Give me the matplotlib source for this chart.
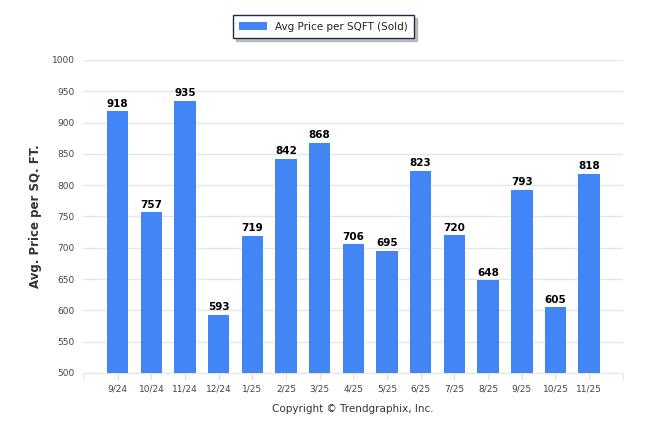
import matplotlib
matplotlib.use("Agg")
import matplotlib.pyplot as plt
from matplotlib.patches import Patch

months = ["9/24", "10/24", "11/24", "12/24", "1/25", "2/25", "3/25", "4/25",
          "5/25", "6/25", "7/25", "8/25", "9/25", "10/25", "11/25"]
values = [918, 757, 935, 593, 719, 842, 868, 706, 695, 823, 720, 648, 793, 605, 818]
yticks = [500, 550, 600, 650, 700, 750, 800, 850, 900, 950, 1000]

bar_color = "#4285f4"
plt.rcParams['font.family'] = ['DejaVu Sans']

fig = plt.figure(figsize=(6.46, 4.34), dpi=100)
ax = fig.add_axes([0.1285, 0.1406, 0.8355, 0.7212])

x = list(range(len(months)))
ax.bar(x, [v - 500 for v in values], bottom=500, width=0.64, color=bar_color, zorder=3)
for xi, v in zip(x, values):
    ax.text(xi, v + 4, str(v), ha="center", va="bottom", fontsize=7.5,
            fontweight="bold", color="#000000", zorder=4)

x0, x1 = -1.03, 15.0
ax.set_ylim(500, 1000)
ax.set_xlim(x0, x1)
ax.set_yticks(yticks)
ax.set_yticklabels([str(t) for t in yticks], fontsize=6.5, color="#444444")
ax.set_xticks(x)
ax.set_xticklabels(months, fontsize=6.5, color="#444444")
ax.set_xticks([x0 + 0.001, x1 - 0.001], minor=True)
ax.grid(axis="y", color="#e6e6e6", linewidth=1, zorder=0)
for s in ["top", "right", "left"]:
    ax.spines[s].set_visible(False)
ax.spines["bottom"].set_color("#e6e6e6")
ax.tick_params(axis="y", length=0, pad=6)
ax.tick_params(axis="x", which="both", length=4, color="#dddddd", pad=4)
ax.set_ylabel("Avg. Price per SQ. FT.", fontsize=8.5, fontweight="bold", color="#333333", labelpad=7)
ax.set_xlabel("Copyright \u00a9 Trendgraphix, Inc.", fontsize=7.5, color="#333333", labelpad=8)

leg = fig.legend(handles=[Patch(facecolor=bar_color, label="Avg Price per SQFT (Sold)")],
                 loc="center", bbox_to_anchor=(323.5 / 646, 1 - 26.5 / 434),
                 fontsize=7.5, frameon=True, fancybox=False, shadow={'color': '#999999', 'alpha': 0.6},
                 handlelength=2.6, handleheight=0.9, borderpad=0.6, edgecolor="#1f2a4a")
leg.get_frame().set_linewidth(1.0)
for t in leg.get_texts():
    t.set_color("#222222")

fig.savefig("out.png", dpi=100)
